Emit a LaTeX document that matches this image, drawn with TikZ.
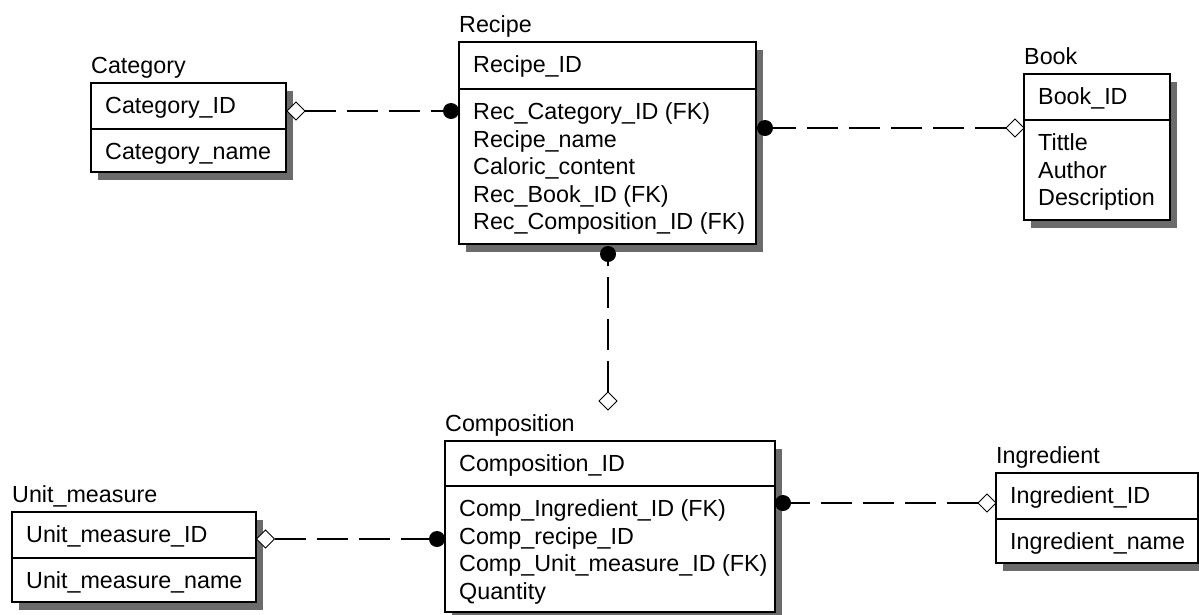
\documentclass[tikz,border=0pt]{standalone}
\usepackage{fontspec}
\setmainfont{Liberation Sans}
\usetikzlibrary{shadows,shapes.geometric}

\tikzset{
  ebox/.style={draw, fill=white, line width=1.3pt, inner sep=0pt, outer sep=0pt,
    drop shadow={shadow xshift=7pt, shadow yshift=-8pt, opacity=1, fill=black!58}},
  etext/.style={inner sep=0pt, anchor=base west, font=\fontsize{23.3}{28}\selectfont},
  fkdot/.style={circle, fill=black, inner sep=0pt, outer sep=0pt, minimum size=16pt},
  pkdiam/.style={diamond, draw, fill=white, line width=1pt, inner sep=0pt, outer sep=0pt, minimum size=18pt},
  rel/.style={line width=1.3pt, dash pattern=on 31pt off 11pt}
}

% entity: name, left, top, right, divider, bottom, title, key, attributes
\newcommand{\erentity}[9]{%
  \node[ebox, anchor=north west, minimum width={(#4-#2)*1pt}, minimum height={(#6-#3)*1pt}] (#1) at (#2,#3) {};
  \draw[line width=1.3pt] (#2,#5) -- (#4,#5);
  \node[etext] (#1-title) at (#2,#3-9.5) {#7};
  \node[etext] (#1-key) at (#2+14,#3+30.5) {#8};
  \foreach \attr [count=\i from 0] in {#9}
    \node[etext] (#1-a\i) at (#2+14,#5+30.5+27.6*\i) {\attr};
}

\begin{document}
\begin{tikzpicture}[x=1pt,y=-1pt]
\useasboundingbox (0,0) rectangle (1199,614);

\erentity{category}{91}{83}{286}{129}{172}{Category}{Category\_ID}{Category\_name}
\erentity{recipe}{459}{42}{756}{89}{244}{Recipe}{Recipe\_ID}
  {Rec\_Category\_ID (FK),Recipe\_name,Caloric\_content,Rec\_Book\_ID (FK),Rec\_Composition\_ID (FK)}
\erentity{book}{1024}{74}{1170}{120}{220}{Book}{Book\_ID}{Tittle,Author,Description}
\erentity{unit}{12}{512}{256}{558}{602}{Unit\_measure}{Unit\_measure\_ID}{Unit\_measure\_name}
\erentity{comp}{445}{441}{775}{486}{612}{Composition}{Composition\_ID}
  {Comp\_Ingredient\_ID (FK),Comp\_recipe\_ID,Comp\_Unit\_measure\_ID (FK),Quantity}
\erentity{ingr}{996}{473}{1198}{519}{563}{Ingredient}{Ingredient\_ID}{Ingredient\_name}

% relationship ends
\node[pkdiam] (catD) at (296,111) {};
\node[fkdot]  (recL) at (451,111) {};
\node[fkdot]  (recR) at (765,128) {};
\node[pkdiam] (bookD) at (1015,128) {};
\node[fkdot]  (recB) at (608,254) {};
\node[pkdiam] (compD) at (608,401) {};
\node[pkdiam] (unitD) at (265.5,539) {};
\node[fkdot]  (compL) at (437,539) {};
\node[fkdot]  (compR) at (783,503) {};
\node[pkdiam] (ingrD) at (987,503) {};

% relationships
\draw[rel] (catD) -- (recL);
\draw[rel] (bookD) -- (recR);
\draw[rel] (compD) -- (recB);
\draw[rel] (unitD) -- (compL);
\draw[rel] (ingrD) -- (compR);
\end{tikzpicture}
\end{document}
